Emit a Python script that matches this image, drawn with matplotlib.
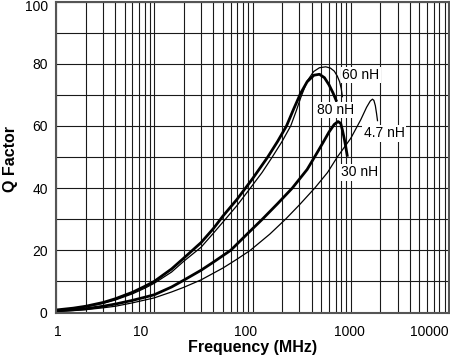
import matplotlib
matplotlib.use('Agg')
import matplotlib.pyplot as plt
import matplotlib.transforms as mtransforms

plt.rcParams['font.family'] = ['Liberation Sans', 'DejaVu Sans']

# Q factor vs frequency (MHz)
f_80nh = [1, 1.5, 2, 3, 4, 6, 8, 10, 15, 20, 30, 40, 50, 70, 100, 143, 180, 222,
          263, 309, 360, 422, 480, 540, 601, 660, 719]
q_80nh = [0.8, 1.4, 2.0, 3.2, 4.4, 6.5, 8.4, 10, 14, 17.5, 22.5, 27, 31, 36.5, 43, 50, 55, 60,
          65.5, 70.5, 74.2, 76.3, 76.6, 75.5, 73.2, 70.6, 67.8]

f_60nh = [1, 1.5, 2, 3, 4, 6, 8, 10, 15, 20, 30, 40, 53, 70, 95, 125, 159, 200, 245,
          280, 309, 361, 420, 480, 556, 620, 680, 730, 770, 800, 822]
q_60nh = [0.7, 1.2, 1.8, 2.9, 4.0, 6.0, 7.8, 9.4, 13, 16.5, 21, 25.5, 30, 34.5, 40, 45, 50, 55, 60,
          65, 69, 74.5, 77.5, 78.7, 79, 78.6, 77.6, 76, 74.2, 72, 69.4]

f_30nh = [1, 1.5, 2, 3, 4, 6, 8, 10, 15, 20, 30, 40, 60, 90, 126, 180, 254, 360, 457,
          530, 600, 680, 743, 790, 822, 860, 889, 925]
q_30nh = [0.5, 0.9, 1.2, 2.0, 2.7, 3.9, 4.9, 5.7, 8.2, 10.4, 13.6, 16.2, 20, 25.5, 30, 35, 40, 46, 51.5,
          55, 58, 60.5, 61.4, 60.8, 58.7, 55.8, 53.3, 50.1]

f_4n7 = [1, 1.5, 2, 3, 4, 6, 8, 10, 15, 20, 30, 50, 70, 95, 150, 217, 300, 430, 580, 730,
         1000, 1265, 1450, 1580, 1663, 1720, 1780, 1830, 1872]
q_4n7 = [0.3, 0.6, 0.9, 1.5, 2.0, 3.1, 4.0, 4.7, 6.6, 8.1, 10.5, 14.3, 17.2, 20, 25.2, 30, 34.6, 40, 45, 50,
         56, 62, 66, 68, 68.6, 68.2, 66.5, 64, 61.7]

curve_labels = ['60 nH', '80 nH', '4.7 nH', '30 nH']
label_f = [1265, 703, 2188, 1216]
label_q = [76.4, 65.1, 57.6, 45.1]

x_ticks = [1, 10, 100, 1000, 10000]
x_tick_labels = ['1', '10', '100', '1000', '10000']
y_ticks = [0, 20, 40, 60, 80, 100]

fig = plt.figure(figsize=(4.5, 3.58), dpi=100)
ax = fig.add_axes([56 / 450, 45.5 / 358, 393 / 450, 311 / 358])

ax.set_xscale('log')
ax.set_xlim(1, 10000)
ax.set_ylim(0, 100)

# grid: every 1..9 per decade, every 10 in Q
ax.set_xticks(x_ticks)
ax.set_xticks([m * 10 ** d for d in range(4) for m in range(2, 10)], minor=True)
ax.set_yticks(range(0, 101, 10), minor=True)
ax.set_yticks(y_ticks)
ax.grid(True, which='both', color='#1a1a1a', linewidth=0.8)
ax.set_axisbelow(True)

ax.plot(f_80nh, q_80nh, color='black', linewidth=2.0, solid_capstyle='butt', solid_joinstyle='round')
ax.plot(f_60nh, q_60nh, color='black', linewidth=0.9, solid_joinstyle='round')
ax.plot(f_30nh, q_30nh, color='black', linewidth=2.0, solid_capstyle='butt', solid_joinstyle='round')
ax.plot(f_4n7, q_4n7, color='black', linewidth=0.9, solid_joinstyle='round')

for txt, fx, qy in zip(curve_labels, label_f, label_q):
    ax.text(fx, qy, txt, fontsize=10, ha='center', va='center',
            bbox=dict(facecolor='white', edgecolor='none', pad=1.0))

for s in ax.spines.values():
    s.set_color('#555555')
    s.set_linewidth(1.5)

ax.tick_params(which='both', length=0)
ax.tick_params(axis='x', pad=9, labelsize=10)
ax.tick_params(axis='y', pad=6, labelsize=10)
ax.set_xticklabels(x_tick_labels)
ax.set_yticklabels([str(v) for v in y_ticks])

# label offsets as in the original artwork (pixels)
offsets = [2, -14, -7, -1, -20]
for lab, dx in zip(ax.get_xticklabels(), offsets):
    lab.set_transform(lab.get_transform() + mtransforms.ScaledTranslation(dx / 100, 0, fig.dpi_scale_trans))
top_lab = ax.get_yticklabels()[-1]
top_lab.set_transform(top_lab.get_transform() + mtransforms.ScaledTranslation(0, -4 / 100, fig.dpi_scale_trans))

ax.set_xlabel('Frequency (MHz)', fontsize=11.5, fontweight='bold', labelpad=1)
ax.set_ylabel('Q Factor', fontsize=11.5, fontweight='bold', va='center')
ax.yaxis.set_label_coords(-46 / 393, 0.494)

fig.savefig('out.png', dpi=100)
